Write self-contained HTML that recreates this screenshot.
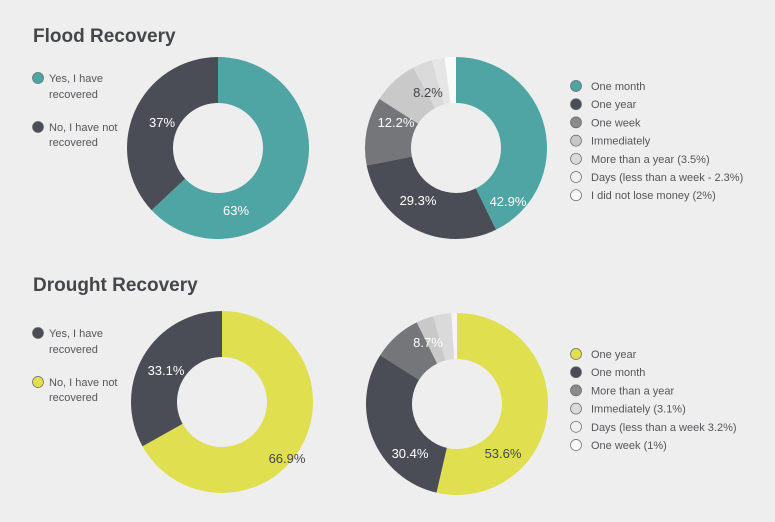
<!DOCTYPE html>
<html><head><meta charset="utf-8"><style>
body{margin:0;background:#eeeeee;}
svg{display:block;font-family:"Liberation Sans",sans-serif;}
</style></head><body>
<svg id="s" width="775" height="522" xmlns="http://www.w3.org/2000/svg">
<rect width="775" height="522" fill="#eeeeee"/>
<text x="33" y="42" font-size="19" font-weight="bold" fill="#45464a">Flood Recovery</text>
<text x="33" y="291" font-size="19" font-weight="bold" fill="#45464a">Drought Recovery</text>
<g font-size="11" fill="#55565a">
<circle cx="38" cy="78" r="5.5" fill="#4fa5a3" stroke="#666" stroke-width="0.7"/>
<text x="49" y="82">Yes, I have</text><text x="49" y="98">recovered</text>
<circle cx="38" cy="127" r="5.5" fill="#4a4d55" stroke="#666" stroke-width="0.7"/>
<text x="49" y="131">No, I have not</text><text x="49" y="146">recovered</text>
<circle cx="38" cy="333" r="5.5" fill="#4a4d55" stroke="#666" stroke-width="0.7"/>
<text x="49" y="337">Yes, I have</text><text x="49" y="353">recovered</text>
<circle cx="38" cy="382" r="5.5" fill="#dfdf50" stroke="#666" stroke-width="0.7"/>
<text x="49" y="386">No, I have not</text><text x="49" y="401">recovered</text>
</g>
<g id="charts"></g>
<g id="leg" font-size="11" fill="#55565a"></g>
<g font-size="13" text-anchor="middle">
<text x="162" y="127" fill="#fff">37%</text>
<text x="236" y="215" fill="#fff">63%</text>
<text x="508" y="206" fill="#fff">42.9%</text>
<text x="418" y="205" fill="#fff">29.3%</text>
<text x="396" y="127" fill="#fff">12.2%</text>
<text x="428" y="97" fill="#45464a">8.2%</text>
<text x="166" y="375" fill="#fff">33.1%</text>
<text x="287" y="463" fill="#45464a">66.9%</text>
<text x="503" y="458" fill="#45464a">53.6%</text>
<text x="410" y="458" fill="#fff">30.4%</text>
<text x="428" y="347" fill="#fff">8.7%</text>
</g>
</svg>
<script>
var NS="http://www.w3.org/2000/svg";
function donut(cx,cy,R,r,data){
 var g=document.getElementById("charts"),tot=0;data.forEach(d=>tot+=d[0]);
 var a=0;
 data.forEach(function(d){
  var a0=a/tot*2*Math.PI,a1=(a+d[0])/tot*2*Math.PI;a+=d[0];
  var L=(a1-a0)>Math.PI?1:0;
  function p(rr,t){return [cx+rr*Math.sin(t),cy-rr*Math.cos(t)];}
  var p1=p(R,a0),p2=p(R,a1),p3=p(r,a1),p4=p(r,a0);
  var path=document.createElementNS(NS,"path");
  path.setAttribute("d","M"+p1+"A"+R+","+R+" 0 "+L+" 1 "+p2+"L"+p3+"A"+r+","+r+" 0 "+L+" 0 "+p4+"Z");
  path.setAttribute("fill",d[1]);g.insertBefore(path,g.firstChild);
 });
}
var T="#4fa5a3",D="#4a4d55",Y="#dfdf50";
donut(218,148,91,45,[[63,T],[37,D]]);
donut(456,148,91,45,[[42.9,T],[29.3,D],[12.2,"#75767a"],[8.2,"#c9c9c9"],[3.5,"#dadada"],[2.3,"#e6e6e6"],[2,"#fafafa"]]);
donut(222,402,91,45,[[66.9,Y],[33.1,D]]);
donut(457,404,91,45,[[53.6,Y],[30.4,D],[8.7,"#75767a"],[3.1,"#c9c9c9"],[3.2,"#dadada"],[1,"#f5f5f5"]]);
function leg(x,y0,items){
 var g=document.getElementById("leg");
 items.forEach(function(it,i){
  var y=y0+i*18.2;
  var c=document.createElementNS(NS,"circle");c.setAttribute("cx",x);c.setAttribute("cy",y);c.setAttribute("r",5.5);
  c.setAttribute("fill",it[1]);c.setAttribute("stroke","#666");c.setAttribute("stroke-width","0.7");g.appendChild(c);
  var t=document.createElementNS(NS,"text");t.setAttribute("x",x+15);t.setAttribute("y",y+4);t.textContent=it[0];g.appendChild(t);
 });
}
leg(576,86,[["One month",T],["One year",D],["One week","#8a8a8c"],["Immediately","#c9c9c9"],["More than a year (3.5%)","#dadada"],["Days (less than a week - 2.3%)","#f0f0f0"],["I did not lose money (2%)","#fafafa"]]);
leg(576,354,[["One year",Y],["One month",D],["More than a year","#8a8a8c"],["Immediately (3.1%)","#dadada"],["Days (less than a week 3.2%)","#f0f0f0"],["One week (1%)","#fafafa"]]);
</script>
</body></html>
